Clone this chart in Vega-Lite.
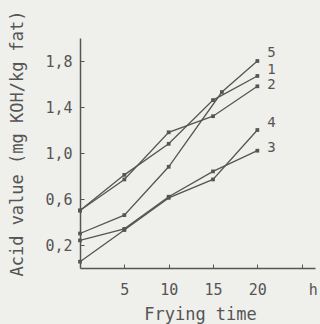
{
  "$schema": "https://vega.github.io/schema/vega-lite/v6.json",
  "autosize": "none",
  "width": 235,
  "height": 230,
  "padding": {"left": 80, "top": 38, "right": 5, "bottom": 56},
  "background": "#efefec",
  "config": {
    "view": {"stroke": null},
    "font": "DejaVu Sans Mono",
    "axis": {"grid": false, "domainColor": "#555", "tickColor": "#555", "labelColor": "#555", "titleColor": "#555", "labelFont": "DejaVu Sans Mono", "titleFont": "DejaVu Sans Mono", "labelFontSize": 15, "titleFontSize": 17, "titleFontWeight": "normal", "domainWidth": 1.5}
  },
  "datasets": {
    "series": [
      {"series": "1", "t": 0, "v": 0.5},
      {"series": "1", "t": 5, "v": 0.81},
      {"series": "1", "t": 10, "v": 1.08},
      {"series": "1", "t": 15, "v": 1.46},
      {"series": "1", "t": 20, "v": 1.67},
      {"series": "2", "t": 0, "v": 0.5},
      {"series": "2", "t": 5, "v": 0.77},
      {"series": "2", "t": 10, "v": 1.18},
      {"series": "2", "t": 15, "v": 1.32},
      {"series": "2", "t": 20, "v": 1.58},
      {"series": "3", "t": 0, "v": 0.24},
      {"series": "3", "t": 5, "v": 0.34},
      {"series": "3", "t": 10, "v": 0.62},
      {"series": "3", "t": 15, "v": 0.84},
      {"series": "3", "t": 20, "v": 1.02},
      {"series": "4", "t": 0, "v": 0.055},
      {"series": "4", "t": 5, "v": 0.33},
      {"series": "4", "t": 10, "v": 0.61},
      {"series": "4", "t": 15, "v": 0.77},
      {"series": "4", "t": 20, "v": 1.2},
      {"series": "5", "t": 0, "v": 0.3},
      {"series": "5", "t": 5, "v": 0.46},
      {"series": "5", "t": 10, "v": 0.88},
      {"series": "5", "t": 16, "v": 1.53},
      {"series": "5", "t": 20, "v": 1.8}
    ],
    "labels": [
      {"label": "5", "t": 21.6, "v": 1.87},
      {"label": "1", "t": 21.6, "v": 1.72},
      {"label": "2", "t": 21.6, "v": 1.59},
      {"label": "4", "t": 21.6, "v": 1.26},
      {"label": "3", "t": 21.6, "v": 1.04}
    ],
    "unit": [
      {"label": "h", "t": 26.3, "v": 0}
    ]
  },
  "layer": [
    {
      "data": {"name": "series"},
      "mark": {"type": "line", "color": "#555", "strokeWidth": 1.3},
      "encoding": {
        "x": {"field": "t", "type": "quantitative", "scale": {"domain": [0, 26.5], "nice": false},
              "axis": {"values": [5, 10, 15, 20, 25], "tickSize": -4, "labelPadding": 18, "title": "Frying time", "titleX": 120, "titleY": 51, "titleBaseline": "alphabetic", "titleAlign": "center", "labelExpr": "datum.value == 25 ? '' : datum.label"}},
        "y": {"field": "v", "type": "quantitative", "scale": {"domain": [0, 2], "nice": false},
              "axis": {"values": [0.2, 0.4, 0.6, 0.8, 1.0, 1.2, 1.4, 1.6, 1.8], "tickSize": -4, "labelPadding": 12, "title": "Acid value (mg KOH/kg fat)", "titleX": -63, "titleY": 105, "titleBaseline": "middle", "titleAlign": "center",
                       "labelExpr": "(round(datum.value*10) % 4 == 2) ? replace(format(datum.value, '.1f'), '.', ',') : ''"}},
        "detail": {"field": "series", "type": "nominal"}
      }
    },
    {
      "data": {"name": "series"},
      "mark": {"type": "point", "shape": "square", "filled": true, "color": "#555", "size": 14, "opacity": 1},
      "encoding": {
        "x": {"field": "t", "type": "quantitative"},
        "y": {"field": "v", "type": "quantitative"}
      }
    },
    {
      "data": {"name": "labels"},
      "mark": {"type": "text", "fontSize": 14, "color": "#555", "font": "DejaVu Sans Mono"},
      "encoding": {
        "x": {"field": "t", "type": "quantitative"},
        "y": {"field": "v", "type": "quantitative"},
        "text": {"field": "label"}
      }
    },
    {
      "data": {"name": "unit"},
      "mark": {"type": "text", "fontSize": 15, "color": "#555", "font": "DejaVu Sans Mono", "dy": 22},
      "encoding": {
        "x": {"field": "t", "type": "quantitative"},
        "y": {"field": "v", "type": "quantitative"},
        "text": {"field": "label"}
      }
    }
  ]
}
